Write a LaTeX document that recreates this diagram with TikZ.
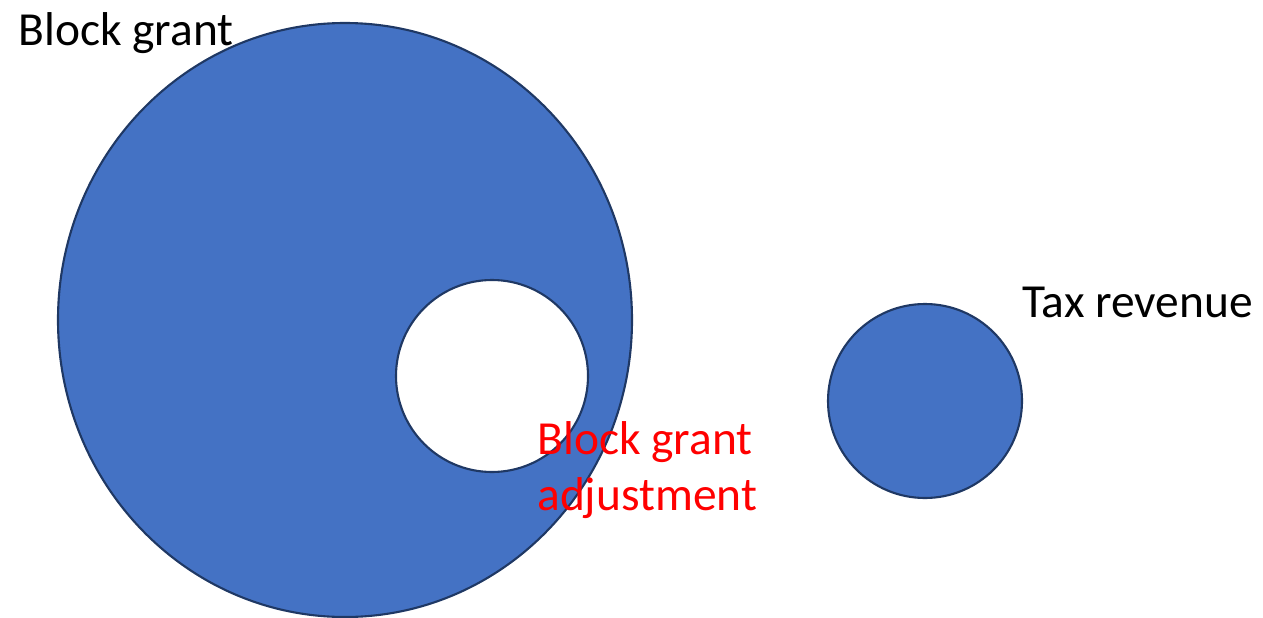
\documentclass[tikz,border=0pt]{standalone}
\usepackage{fontspec}
\setmainfont{Carlito}
\usetikzlibrary{positioning}

\definecolor{fillblue}{HTML}{4472C4}
\definecolor{edgeblue}{HTML}{1F3864}

\begin{document}
\begin{tikzpicture}[
        blob/.style={draw=edgeblue, line width=1.2pt, fill=fillblue},
        hole/.style={circle, draw=edgeblue, line width=1.2pt, fill=white, minimum size=3.84cm, inner sep=0pt},
        disc/.style={circle, draw=edgeblue, line width=1.2pt, fill=fillblue, minimum size=3.88cm, inner sep=0pt},
        label/.style={font=\fontsize{27}{31.8}\selectfont, text=black, inner sep=0pt, anchor=base west},
        redlabel/.style={label, text=red, align=left}
    ]
    \useasboundingbox (0,0) rectangle (25.26,12.34);

    % Block grant with its adjustment cut out
    \draw[blob] (6.9,5.94) ellipse [x radius=5.74cm, y radius=5.94cm];
    \node[hole] (adj) at (9.84,4.82) {};
    \node[label] (bg) at (0.36,11.44) {Block grant};
    \node[redlabel] (bga) at (10.74,2.14) {Block grant\\adjustment};

    % Tax revenue
    \node[disc] (tax) at (18.5,4.32) {};
    \node[label] (taxlbl) at (20.44,6.0) {Tax revenue};
\end{tikzpicture}
\end{document}
